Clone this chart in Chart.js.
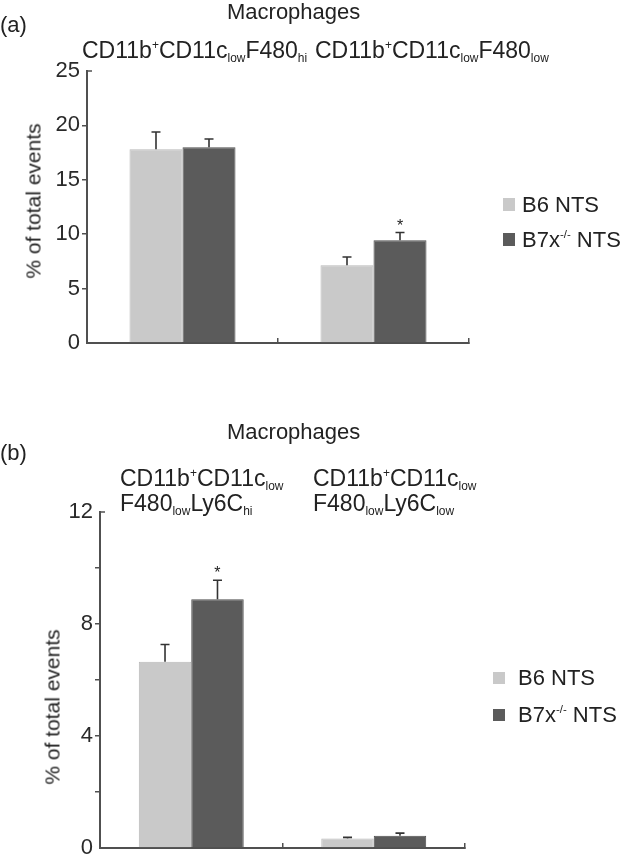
<!DOCTYPE html>
<html><head><meta charset="utf-8">
<script src="https://cdn.jsdelivr.net/npm/chart.js@4.4.0/dist/chart.umd.min.js"></script>
<style>
body{margin:0;width:632px;height:864px;position:relative;background:#fff;font-family:"Liberation Sans",Arial,sans-serif;color:#222;overflow:hidden}
.t{position:absolute;white-space:nowrap;font-size:22px;line-height:22px}
.lab{font-size:23px;line-height:25px}
canvas{position:absolute;left:0}
sub,sup{font-size:0.52em;line-height:0;position:relative;vertical-align:baseline}
sub{top:0.3em}
sup{top:-0.75em}
.sq{position:absolute;width:12px;height:13px}
.yt{position:absolute;font-size:21px;line-height:21px;white-space:nowrap;transform:translate(-50%,-50%) rotate(-90deg)}
</style></head>
<body>
<canvas id="ca" width="632" height="360" style="top:0"></canvas>
<canvas id="cb" width="632" height="434" style="top:430px"></canvas>

<div class="t" style="left:0;top:14px">(a)</div>
<div class="t" style="left:227px;top:1px">Macrophages</div>
<div class="t lab" id="la0" style="left:82px;top:38px"></div>
<div class="t lab" id="la1" style="left:315px;top:38px"></div>
<div class="yt" style="left:33px;top:201px">% of total events</div>
<div id="lega"></div>

<div class="t" style="left:0;top:442px">(b)</div>
<div class="t" style="left:227px;top:421px">Macrophages</div>
<div class="t lab" id="lb0" style="left:120px;top:466px"></div>
<div class="t lab" id="lb1" style="left:313px;top:466px"></div>
<div class="yt" style="left:52px;top:707px">% of total events</div>
<div id="legb"></div>

<script>
// ---- data ----
const categoriesA = ['CD11b<sup>+</sup>CD11c<sub>low</sub>F480<sub>hi</sub>', 'CD11b<sup>+</sup>CD11c<sub>low</sub>F480<sub>low</sub>'];
const categoriesB = ['CD11b<sup>+</sup>CD11c<sub>low</sub><br>F480<sub>low</sub>Ly6C<sub>hi</sub>', 'CD11b<sup>+</sup>CD11c<sub>low</sub><br>F480<sub>low</sub>Ly6C<sub>low</sub>'];
const seriesNames = ['B6 NTS', 'B7x<sup>-/-</sup> NTS'];
const b6A = [17.8, 7.15];
const b6A_err = [1.6, 0.75];
const b7xA = [18.0, 9.45];
const b7xA_err = [0.75, 0.7];
const b7xA_sig = [false, true];
const b6B = [6.65, 0.34];
const b6B_err = [0.62, 0.04];
const b7xB = [8.88, 0.44];
const b7xB_err = [0.68, 0.09];
const b7xB_sig = [true, false];
const yTicksA = [0, 5, 10, 15, 20, 25];
const yTicksB = [0, 4, 8, 12];

const FAM = '"Liberation Sans", Arial, sans-serif';
const LIGHT = '#c9c9c9', DARK = '#5b5b5b', AX = '#505050';

document.getElementById('la0').innerHTML = categoriesA[0];
document.getElementById('la1').innerHTML = categoriesA[1];
document.getElementById('lb0').innerHTML = categoriesB[0];
document.getElementById('lb1').innerHTML = categoriesB[1];

function legend(id, x, tx, ys, tys, sqh){
  const el = document.getElementById(id);
  [LIGHT, DARK].forEach((c, i) => {
    el.insertAdjacentHTML('beforeend',
      `<div class="sq" style="left:${x}px;top:${ys[i]}px;height:${sqh}px;background:${c}"></div>` +
      `<div class="t" style="left:${tx}px;top:${tys[i]}px">${seriesNames[i]}</div>`);
  });
}
legend('lega', 503, 522, [198, 233], [194, 229], 13);
legend('legb', 493, 518, [672, 709], [667, 704], 12);

const strip = s => s.replace(/<br>/g, ' ').replace(/<[^>]+>/g, '');

const errorBars = {
  id: 'errorBars',
  afterDatasetsDraw(chart) {
    const ctx = chart.ctx, y = chart.scales.y, ca = chart.chartArea;
    chart.data.datasets.forEach((ds, di) => {
      const meta = chart.getDatasetMeta(di);
      meta.data.forEach((bar, i) => {
        const v = ds.data[i], e = ds.errors[i];
        const yt = y.getPixelForValue(v + e), yb = y.getPixelForValue(v);
        ctx.save();
        ctx.strokeStyle = '#333'; ctx.lineWidth = 1.6;
        ctx.beginPath();
        ctx.moveTo(bar.x, yb); ctx.lineTo(bar.x, yt);
        ctx.moveTo(bar.x - 4.5, yt); ctx.lineTo(bar.x + 4.5, yt);
        ctx.stroke();
        if (ds.sig && ds.sig[i]) {
          ctx.fillStyle = '#222'; ctx.font = '16px ' + FAM;
          ctx.textAlign = 'center'; ctx.textBaseline = 'alphabetic';
          ctx.fillText('*', bar.x, yt - 2);
        }
        ctx.restore();
      });
    });
    // small right-pointing tick at top of y axis
    ctx.save();
    ctx.strokeStyle = AX; ctx.lineWidth = 1.5;
    ctx.beginPath(); ctx.moveTo(ca.left, ca.top); ctx.lineTo(ca.left + 5, ca.top); ctx.stroke();
    ctx.restore();
  }
};

function makeChart(id, cats, d1, e1, d2, e2, s2, ymax, step, labTicks, pad, yw, xh, catPct) {
  return new Chart(document.getElementById(id), {
    type: 'bar',
    data: {
      labels: cats.map(strip),
      datasets: [
        { label: strip(seriesNames[0]), data: d1, errors: e1, backgroundColor: LIGHT, borderColor: '#b8b8b8', borderWidth: 1 },
        { label: strip(seriesNames[1]), data: d2, errors: e2, sig: s2, backgroundColor: DARK, borderColor: '#4e4e4e', borderWidth: 1 }
      ]
    },
    options: {
      responsive: false, animation: false, devicePixelRatio: 1,
      layout: { padding: pad },
      datasets: { bar: { categoryPercentage: catPct, barPercentage: 1.0 } },
      plugins: { legend: { display: false }, tooltip: { enabled: false } },
      scales: {
        x: {
          ticks: { display: false },
          border: { display: true, color: AX, width: 2 },
          grid: { display: true, offset: true, drawOnChartArea: false, drawTicks: true, tickLength: -5, color: AX, lineWidth: 1.5 },
          afterFit(s) { s.height = xh; }
        },
        y: {
          min: 0, max: ymax,
          ticks: {
            stepSize: step, padding: 2, color: '#2a2a2a',
            font: { size: 22, family: FAM },
            callback: v => labTicks.includes(v) ? String(v) : ''
          },
          border: { display: true, color: AX, width: 2 },
          grid: {
            display: true, drawOnChartArea: false, drawTicks: true, tickLength: 5, lineWidth: 1.5,
            color: c => (c.tick && (c.tick.value === 0 || c.tick.value === ymax)) ? 'rgba(0,0,0,0)' : AX
          },
          afterFit(s) { s.width = yw; }
        }
      }
    },
    plugins: [errorBars]
  });
}

makeChart('ca', categoriesA, b6A, b6A_err, b7xA, b7xA_err, b7xA_sig, 25, 5, yTicksA,
  { top: 71, right: 163, left: 0, bottom: 0 }, 87, 17, 0.555);
makeChart('cb', categoriesB, b6B, b6B_err, b7xB, b7xB_err, b7xB_sig, 12, 2, yTicksB,
  { top: 82, right: 167, left: 0, bottom: 0 }, 100, 16, 0.575);
</script>
</body></html>
